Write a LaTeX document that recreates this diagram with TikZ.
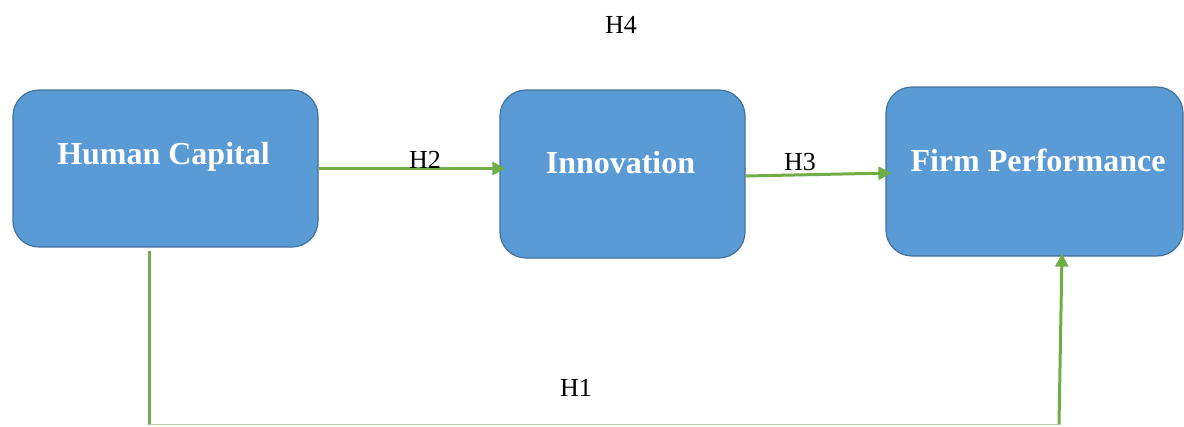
\documentclass[tikz,border=0pt]{standalone}
\usepackage{fontspec}
\setmainfont{Liberation Serif}
\usetikzlibrary{arrows.meta}
\definecolor{boxfill}{HTML}{5B9BD5}
\definecolor{boxline}{HTML}{41719C}
\definecolor{arrgreen}{HTML}{70AD47}
\definecolor{faintgreen}{HTML}{B7D5A0}
\tikzset{
  box/.style={draw=boxline, line width=1.2pt, fill=boxfill, rounded corners=26pt, inner sep=0pt},
  boxtext/.style={text=white, font=\fontsize{32}{36}\selectfont\bfseries, inner sep=0pt},
  hlabel/.style={font=\fontsize{26}{30}\selectfont, inner sep=0pt},
  garrow/.style={draw=arrgreen, line width=3pt, -{Triangle[length=13pt,width=13pt]}},
  gline/.style={draw=arrgreen, line width=3pt},
  fline/.style={draw=faintgreen, line width=1pt}
}
\begin{document}
\begin{tikzpicture}[x=1pt,y=-1pt]
\useasboundingbox (0,0) rectangle (1184,426);
\node[box, minimum width=305pt, minimum height=157pt] (hc) at (165.5,168.5) {};
\node[box, minimum width=245pt, minimum height=168pt] (inn) at (622.5,174) {};
\node[box, minimum width=297pt, minimum height=169pt] (fp) at (1034.5,171.5) {};
\node[boxtext] (hct) at (163.5,157) {Human Capital};
\node[boxtext] (innt) at (620.5,163) {Innovation};
\node[boxtext] (fpt) at (1038,160) {Firm Performance};
\coordinate (c0) at (149,251);
\coordinate (c1) at (149,424.5);
\coordinate (c2) at (1059,424.5);
\draw[garrow] (hc.east) -- ([xshift=6pt]inn.west |- hc.east);
\draw[garrow] ([yshift=-2pt]inn.east) -- ([xshift=6pt,yshift=-1.5pt]fp.west);
\draw[gline] (c0) -- (c1);
\draw[fline] (c1) -- (c2);
\draw[garrow] (c2) -- ([xshift=27.5pt,yshift=3pt]fp.south);
\node[hlabel] (h2) at (425,160) {H2};
\node[hlabel] (h3) at (800,162) {H3};
\node[hlabel] (h1) at (576,388) {H1};
\node[hlabel] (h4) at (621,25) {H4};
\end{tikzpicture}
\end{document}
